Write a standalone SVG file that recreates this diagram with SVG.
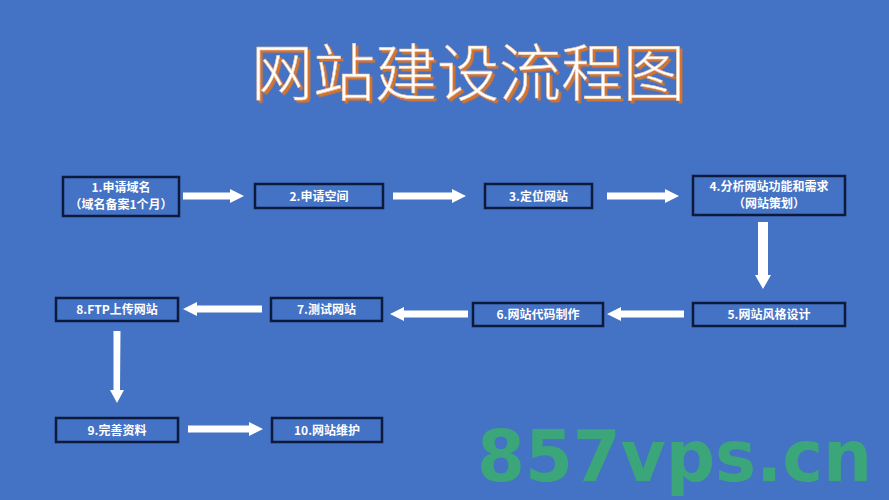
<svg xmlns="http://www.w3.org/2000/svg" width="889" height="500" viewBox="0 0 889 500">
<style>
.box{fill:#4472C4;stroke:#0c1a3c;stroke-width:2.5}
.lbl{font-family:"Noto Sans CJK SC","Noto Sans",sans-serif;font-size:12px;font-weight:bold;fill:#ffffff;text-anchor:middle}
.arr{fill:#ffffff}
.ttl{font-family:"Noto Sans CJK SC",sans-serif;font-size:62px;font-weight:300;text-anchor:middle}
</style>
<defs>
<filter id="sh" x="-5%" y="-20%" width="110%" height="140%">
<feDropShadow dx="2.5" dy="2.5" stdDeviation="0.6" flood-color="#d8732a" flood-opacity="1"/>
</filter>
</defs>
<rect width="889" height="500" fill="#4472C4"/>
<g id="title">
<text class="ttl" x="468" y="96" fill="#ffffff" stroke="#f0c8a0" stroke-width="0.6" filter="url(#sh)">网站建设流程图</text>
</g>
<g id="connectors">
<polygon class="arr" points="183,192.5 230,192.5 230,189 244,196 230,203 230,199.5 183,199.5"/>
<polygon class="arr" points="393,192.5 452,192.5 452,189 466,196 452,203 452,199.5 393,199.5"/>
<polygon class="arr" points="607,192.5 665,192.5 665,189 679,196 665,203 665,199.5 607,199.5"/>
<polygon class="arr" points="758,222 768,222 768,275 771,275 763,289 755,275 758,275"/>
<polygon class="arr" points="684,310.5 621,310.5 621,307 607,314 621,321 621,317.5 684,317.5"/>
<polygon class="arr" points="468,310.5 404,310.5 404,307 390,314 404,321 404,317.5 468,317.5"/>
<polygon class="arr" points="262,305.5 197,305.5 197,302 183,309 197,316 197,312.5 262,312.5"/>
<polygon class="arr" points="113.5,331 120.5,331 120,390 124,390 117,403 110,390 113.5,390"/>
<polygon class="arr" points="188,425.5 249,425.5 249,422 263,429 249,436 249,432.5 188,432.5"/>
</g>
<g id="n1"><rect class="box" x="63" y="177" width="116" height="39"/><text class="lbl" x="121" y="192">1.申请域名</text><text class="lbl" x="121" y="209">（域名备案1个月）</text></g>
<g id="n2"><rect class="box" x="255" y="184" width="128" height="24"/><text class="lbl" x="319" y="200.5">2.申请空间</text></g>
<g id="n3"><rect class="box" x="485" y="184" width="107" height="24"/><text class="lbl" x="538.5" y="200.5">3.定位网站</text></g>
<g id="n4"><rect class="box" x="693" y="176" width="152" height="39"/><text class="lbl" x="769" y="191">4.分析网站功能和需求</text><text class="lbl" x="769" y="208">（网站策划）</text></g>
<g id="n5"><rect class="box" x="693" y="303" width="152" height="23"/><text class="lbl" x="769" y="319">5.网站风格设计</text></g>
<g id="n6"><rect class="box" x="473" y="303" width="130" height="23"/><text class="lbl" x="538" y="319">6.网站代码制作</text></g>
<g id="n7"><rect class="box" x="271" y="298" width="111" height="23"/><text class="lbl" x="326.5" y="314">7.测试网站</text></g>
<g id="n8"><rect class="box" x="56" y="298" width="122" height="23"/><text class="lbl" x="117" y="314">8.FTP上传网站</text></g>
<g id="n9"><rect class="box" x="56" y="418" width="122" height="24"/><text class="lbl" x="117" y="434.5">9.完善资料</text></g>
<g id="n10"><rect class="box" x="272" y="418" width="110" height="24"/><text class="lbl" x="327" y="434.5">10.网站维护</text></g>
<text x="477" y="481" font-family="DejaVu Sans,sans-serif" font-weight="bold" font-size="72" fill="#3aa67a" textLength="395" lengthAdjust="spacingAndGlyphs">857vps.cn</text>
</svg>
